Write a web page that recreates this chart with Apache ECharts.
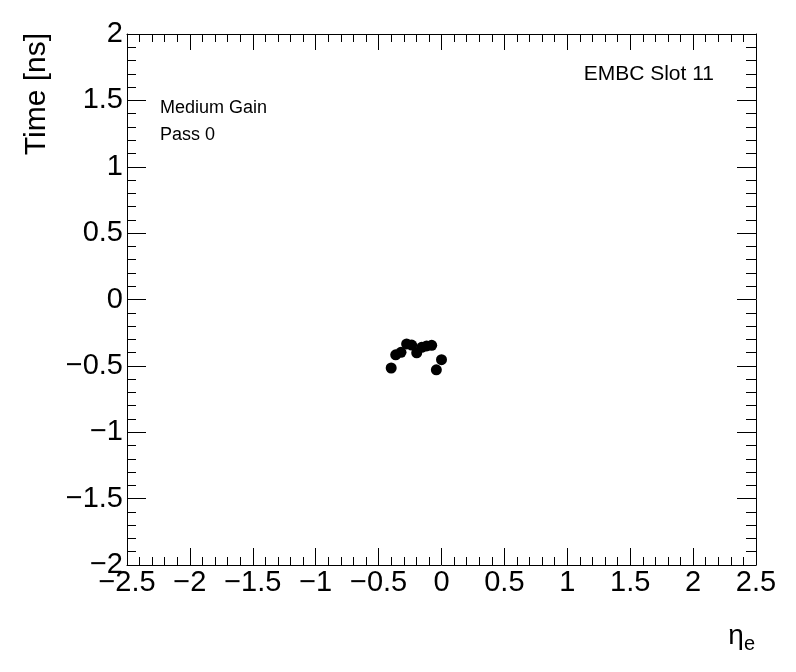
<!DOCTYPE html>
<html>
<head>
<meta charset="utf-8">
<script src="https://cdn.jsdelivr.net/npm/echarts@6/dist/echarts.min.js"></script>
<style>
  html, body { margin: 0; padding: 0; background: #fff; }
  #chart { width: 796px; height: 672px; }
</style>
</head>
<body>
<div id="chart"></div>
<script>
// eta positions and measured times
const etaValues = [-0.40, -0.364, -0.322, -0.277, -0.237, -0.197, -0.157, -0.118, -0.078, -0.041, 0.0];
const timeValues = [-0.516, -0.417, -0.398, -0.335, -0.343, -0.402, -0.360, -0.350, -0.345, -0.530, -0.453];

const xTitle = 'η';
const yTitle = 'Time [ns]';
const labelLines = ['Medium Gain', 'Pass 0'];
const slotLabel = 'EMBC Slot 11';

const FONT = '"Liberation Sans", Arial, sans-serif';

// ROOT style minus sign
function fmt(v) {
  const s = String(Math.round(v * 100) / 100);
  return s.replace('-', '\u2212');
}

function axisBase(pos, major, minor, showLabel) {
  const vertical = pos === 'left' || pos === 'right';
  return {
    type: 'value',
    position: pos,
    min: vertical ? -2 : -2.5,
    max: vertical ? 2 : 2.5,
    interval: 0.5,
    axisLine: { show: true, onZero: false, lineStyle: { color: '#000', width: 1 } },
    axisTick: { show: true, inside: true, length: major, lineStyle: { color: '#000', width: 1 } },
    minorTick: { show: true, splitNumber: 5, length: minor, lineStyle: { color: '#000', width: 1 } },
    splitLine: { show: false },
    axisLabel: {
      show: showLabel,
      formatter: fmt,
      color: '#000',
      fontFamily: FONT,
      fontSize: 29,
      margin: vertical ? 4 : 3,
      showMinLabel: true,
      showMaxLabel: true,
      hideOverlap: false
    }
  };
}

const chart = echarts.init(document.getElementById('chart'), null, { renderer: 'canvas' });

chart.setOption({
  animation: false,
  backgroundColor: '#fff',
  grid: { left: 127, right: 40, top: 34, bottom: 107, containLabel: false },
  xAxis: [
    axisBase('bottom', 17, 8, true),
    axisBase('top', 16, 8, false)
  ],
  yAxis: [
    axisBase('left', 19, 9, true),
    axisBase('right', 19, 10, false)
  ],
  series: [{
    type: 'scatter',
    xAxisIndex: 0,
    yAxisIndex: 0,
    symbol: 'circle',
    symbolSize: 11,
    itemStyle: { color: '#000', opacity: 1 },
    data: etaValues.map((x, i) => [x, timeValues[i]])
  }],
  graphic: [
    {
      type: 'text',
      x: 37, y: 33,
      rotation: Math.PI / 2,
      style: { text: yTitle, font: '30px ' + FONT, fill: '#000', align: 'right', verticalAlign: 'middle' }
    },
    {
      type: 'text',
      x: 755, y: 636,
      style: {
        text: '{a|' + xTitle + '}{b|e}',
        align: 'right',
        verticalAlign: 'middle',
        rich: {
          a: { font: '28px ' + FONT, fill: '#000' },
          b: { font: '20px ' + FONT, fill: '#000', padding: [16, 0, 0, 0] }
        }
      }
    },
    {
      type: 'text',
      x: 160, y: 108,
      style: { text: labelLines[0], font: '18px ' + FONT, fill: '#000', verticalAlign: 'middle' }
    },
    {
      type: 'text',
      x: 160, y: 135,
      style: { text: labelLines[1], font: '18px ' + FONT, fill: '#000', verticalAlign: 'middle' }
    },
    {
      type: 'text',
      x: 714, y: 74,
      style: { text: slotLabel, font: '21px ' + FONT, fill: '#000', align: 'right', verticalAlign: 'middle' }
    }
  ]
});
</script>
</body>
</html>
